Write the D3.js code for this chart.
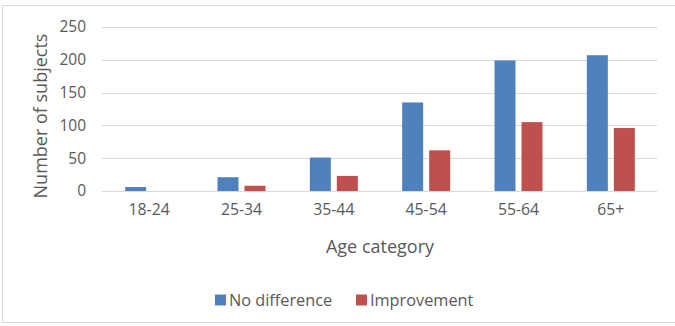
<!DOCTYPE html>
<html>
<head>
<meta charset="utf-8">
<script src="https://cdn.jsdelivr.net/npm/d3@7"></script>
<style>
  html, body { margin: 0; padding: 0; background: #fff; }
  svg { display: block; font-family: "Open Sans", "Noto Sans", sans-serif; }
</style>
</head>
<body>
<svg id="chart" width="675" height="326"></svg>
<script>
// Subjects per age category, split by outcome
const categories = ["18-24", "25-34", "35-44", "45-54", "55-64", "65+"];
const seriesNames = ["No difference", "Improvement"];
const noDifference = [6, 21, 51, 135, 199, 207];
const improvement = [0, 8, 23, 62, 105, 96];
const yTicks = [0, 50, 100, 150, 200, 250];
const colors = ["#4f81bd", "#c0504d"];

const seriesValues = [noDifference, improvement];
const rows = categories.map((c, i) => ({
  category: c,
  values: seriesNames.map((s, j) => ({ series: s, value: seriesValues[j][i] }))
}));

const svg = d3.select("#chart");
const textColor = "#595959";
const gridColor = "#d9d9d9";

// Outer chart frame
svg.append("rect")
  .attr("x", 2.5).attr("y", 5.5)
  .attr("width", 690).attr("height", 317)
  .attr("fill", "#fff")
  .attr("stroke", gridColor)
  .attr("stroke-width", 1);

const plot = { left: 103, right: 657, top: 27, bottom: 191 };

const x0 = d3.scaleBand()
  .domain(categories)
  .range([plot.left, plot.right])
  .paddingInner(0.48)
  .paddingOuter(0.24);

const x1 = d3.scaleBand()
  .domain(seriesNames)
  .range([0, x0.bandwidth()])
  .paddingInner(0.222)
  .paddingOuter(0);

const y = d3.scaleLinear()
  .domain([0, 250])
  .range([plot.bottom, plot.top]);

const color = d3.scaleOrdinal().domain(seriesNames).range(colors);

// Horizontal gridlines
svg.append("g")
  .selectAll("line")
  .data(yTicks)
  .join("line")
  .attr("x1", plot.left - 1)
  .attr("x2", plot.right)
  .attr("y1", d => Math.round(y(d)) + 0.5)
  .attr("y2", d => Math.round(y(d)) + 0.5)
  .attr("stroke", gridColor)
  .attr("stroke-width", 1);

// Y axis labels
const yAxis = d3.axisLeft(y).tickValues(yTicks).tickSize(0).tickPadding(0);
svg.append("g")
  .attr("transform", `translate(${plot.left - 17},0)`)
  .call(yAxis)
  .call(g => g.select(".domain").remove())
  .call(g => g.selectAll("text")
    .attr("fill", textColor)
    .attr("font-size", "15.5px")
    .attr("font-family", "'Open Sans', sans-serif"));

// Bars
svg.append("g")
  .selectAll("g")
  .data(rows)
  .join("g")
  .attr("transform", d => `translate(${x0(d.category)},0)`)
  .selectAll("rect")
  .data(d => d.values)
  .join("rect")
  .attr("x", d => x1(d.series))
  .attr("width", x1.bandwidth())
  .attr("y", d => y(d.value))
  .attr("height", d => y(0) - y(d.value))
  .attr("fill", d => color(d.series));

// X axis labels
const xAxis = d3.axisBottom(x0).tickSize(0).tickPadding(0);
svg.append("g")
  .attr("transform", `translate(0,${plot.bottom + 13})`)
  .call(xAxis)
  .call(g => g.select(".domain").remove())
  .call(g => g.selectAll("text")
    .attr("fill", textColor)
    .attr("font-size", "15.8px")
    .attr("font-family", "'Open Sans', sans-serif"));

// Axis titles
svg.append("text")
  .attr("x", (plot.left + plot.right) / 2)
  .attr("y", 246)
  .attr("text-anchor", "middle")
  .attr("dominant-baseline", "central")
  .attr("fill", textColor)
  .attr("font-size", "18px")
  .text("Age category");

svg.append("text")
  .attr("transform", "translate(40,116) rotate(-90)")
  .attr("text-anchor", "middle")
  .attr("dominant-baseline", "central")
  .attr("fill", textColor)
  .attr("font-size", "18px")
  .text("Number of subjects");

// Legend
const legendItems = [
  { name: seriesNames[0], x: 215 },
  { name: seriesNames[1], x: 356 }
];
const legend = svg.append("g")
  .selectAll("g")
  .data(legendItems)
  .join("g")
  .attr("transform", d => `translate(${d.x},300)`);
legend.append("rect")
  .attr("x", 0).attr("y", -5.5)
  .attr("width", 11).attr("height", 11)
  .attr("fill", d => color(d.name));
legend.append("text")
  .attr("x", 14)
  .attr("y", 0)
  .attr("dominant-baseline", "central")
  .attr("fill", textColor)
  .attr("font-size", "16.3px")
  .text(d => d.name);
</script>
</body>
</html>
